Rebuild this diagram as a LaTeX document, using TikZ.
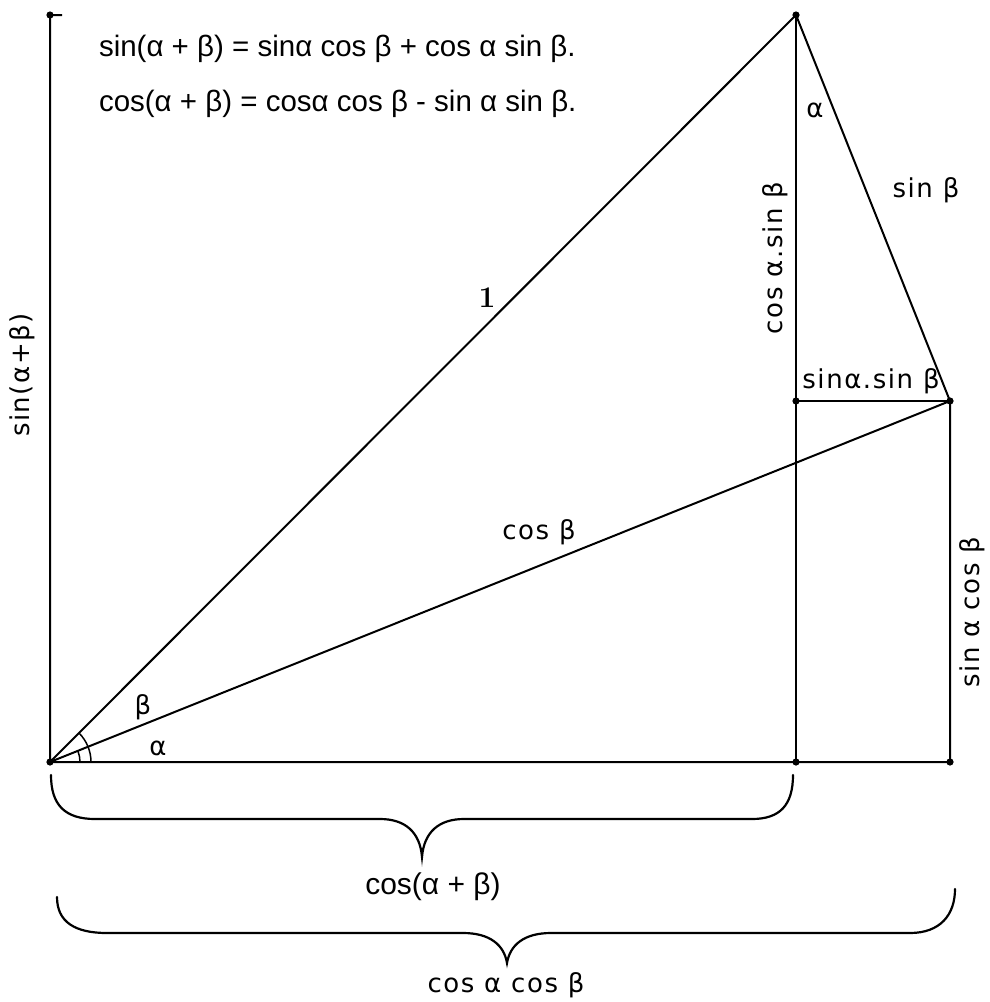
\documentclass[tikz,border=0pt]{standalone}
\usepackage{fontspec}
\setmainfont{Liberation Sans}
\newfontfamily\lblfont{DejaVu Sans}[LetterSpace=6]
\newfontfamily\serfont{Latin Modern Roman}
\begin{document}
\begin{tikzpicture}[x=1pt,y=-1pt,line width=2pt,
  eq/.style={font=\fontsize{29.5}{34}\selectfont,anchor=west,inner sep=0pt},
  ar/.style={font=\fontsize{30}{34}\selectfont,inner sep=0pt},
  lbl/.style={font=\lblfont\fontsize{26}{30}\selectfont,inner sep=0pt},
  one/.style={font=\serfont\bfseries\fontsize{30}{34}\selectfont,inner sep=0pt},
  brace/.style={line width=2.2pt,line cap=round}]
\useasboundingbox (0,0) rectangle (989,1002);
% points
\coordinate (T) at (50,15);
\coordinate (Tk) at (62,15);
\coordinate (O) at (50,762);
\coordinate (P) at (796,15);
\coordinate (Q) at (950,401);
\coordinate (R) at (796,401);
\coordinate (F) at (796,762);
\coordinate (G) at (950,762);
% lines
\draw (Tk) -- (T) -- (O) -- (F) -- (G) -- (Q) -- (P) -- (O);
\draw (O) -- (Q);
\draw (P) -- (R) -- (F);
\draw (R) -- (Q);
% dots
\foreach \p in {T,O,P,Q,R,F,G} \fill (\p) circle (3.6pt);
% angle arcs
\draw[line width=1.5pt] ([xshift=30pt]O) arc[start angle=0,end angle=21.86,radius=30pt];
\draw[line width=1.5pt] ([xshift=41pt]O) arc[start angle=0,end angle=45,radius=41pt];
% equations
\node[eq] (e1) at (98,49) {sin(α + β) = sinα cos β + cos α sin β.};
\node[eq] (e2) at (98,104) {cos(α + β) = cosα cos β - sin α sin β.};
% labels
\node[lbl] (la) at (815,110) {α};
\node[lbl] (lsb) at (926,190) {sin β};
\node[lbl,rotate=90] (lcasb) at (775,258) {cos α.sin β};
\node[one] (l1) at (487,298) {1};
\node[lbl] (lsasb) at (871,381) {sinα.sin β};
\node[lbl] (lcb) at (539,532) {cos β};
\node[lbl,rotate=90] (lsacb) at (972,612) {sin α cos β};
\node[lbl,rotate=90] (lsab) at (22,375) {sin(α+β)};
\node[lbl] (lbeta) at (143,707) {β};
\node[lbl] (lalpha) at (158,748) {α};
\node[ar] (lcab) at (433,887) {cos(α + β)};
\node[lbl] (lcacb) at (506,985) {cos α cos β};
% braces
\draw[brace] (51,775) .. controls (51,805) and (65,819) .. (95,819) -- (380,819)
  .. controls (405,819) and (420,832) .. (422,857)
  .. controls (424,832) and (439,819) .. (464,819) -- (752,819)
  .. controls (780,819) and (793,805) .. (793,775);
\draw[brace] (57,897) .. controls (57,922) and (75,933) .. (107,933) -- (463,933)
  .. controls (490,933) and (504,945) .. (507,963)
  .. controls (510,945) and (524,933) .. (551,933) -- (910,933)
  .. controls (940,933) and (955,915) .. (955,889);
\end{tikzpicture}
\end{document}
